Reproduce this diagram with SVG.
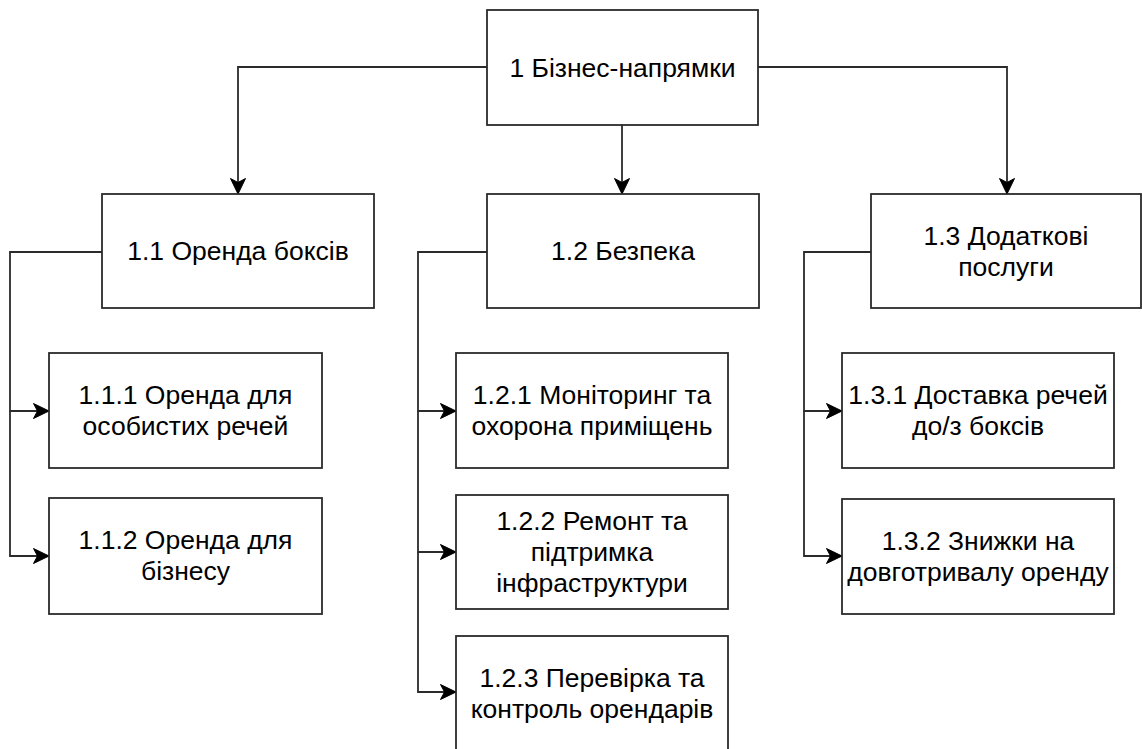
<svg xmlns="http://www.w3.org/2000/svg" width="1142" height="749" viewBox="0 0 1142 749">
  <style>
    .box { fill: #ffffff; stroke: #2b2b2b; stroke-width: 1.8; }
    .lbl { font-family: "Liberation Sans", Arial, sans-serif; font-size: 26.5px; fill: #000; text-anchor: middle; }
    .edge { fill: none; stroke: #2b2b2b; stroke-width: 1.8; marker-end: url(#arrow); }
  </style>
  <defs>
    <marker id="arrow" markerUnits="userSpaceOnUse" markerWidth="18" markerHeight="18" refX="16.5" refY="9" orient="auto">
      <path d="M1,1.5 L16.5,9 L1,16.5 L5,9 Z" fill="#000" stroke="#000" stroke-width="1"/>
    </marker>
  </defs>

  <!-- connectors -->
  <g id="connectors">
    <path class="edge" d="M487,67 H238 V194"/>
    <path class="edge" d="M622,125 V194"/>
    <path class="edge" d="M758,67 H1007 V194"/>

    <path class="edge" d="M102,252 H10 V411 H49"/>
    <path class="edge" d="M10,411 V556 H49"/>

    <path class="edge" d="M487,252 H418 V411 H456"/>
    <path class="edge" d="M418,411 V552 H456"/>
    <path class="edge" d="M418,552 V692 H456"/>

    <path class="edge" d="M871,252 H804 V411 H842"/>
    <path class="edge" d="M804,411 V556 H842"/>
  </g>

  <!-- root -->
  <g id="n1">
    <rect class="box" x="487" y="10" width="271" height="115"/>
    <text class="lbl" x="622.5" y="77">1 Бізнес-напрямки</text>
  </g>

  <!-- level 2 -->
  <g id="n1-1">
    <rect class="box" x="102" y="194" width="272" height="114"/>
    <text class="lbl" x="238" y="260">1.1 Оренда боксів</text>
  </g>
  <g id="n1-2">
    <rect class="box" x="487" y="194" width="272" height="114"/>
    <text class="lbl" x="623" y="260">1.2 Безпека</text>
  </g>
  <g id="n1-3">
    <rect class="box" x="871" y="194" width="270" height="114"/>
    <text class="lbl" x="1006" y="245">1.3 Додаткові</text>
    <text class="lbl" x="1006" y="276">послуги</text>
  </g>

  <!-- level 3: 1.1 -->
  <g id="n1-1-1">
    <rect class="box" x="49" y="353" width="273" height="115"/>
    <text class="lbl" x="185.5" y="404">1.1.1 Оренда для</text>
    <text class="lbl" x="185.5" y="435">особистих речей</text>
  </g>
  <g id="n1-1-2">
    <rect class="box" x="49" y="498" width="273" height="116"/>
    <text class="lbl" x="185.5" y="549">1.1.2 Оренда для</text>
    <text class="lbl" x="185.5" y="580">бізнесу</text>
  </g>

  <!-- level 3: 1.2 -->
  <g id="n1-2-1">
    <rect class="box" x="456" y="353" width="272" height="115"/>
    <text class="lbl" x="592" y="404">1.2.1 Моніторинг та</text>
    <text class="lbl" x="592" y="435">охорона приміщень</text>
  </g>
  <g id="n1-2-2">
    <rect class="box" x="456" y="495" width="272" height="114"/>
    <text class="lbl" x="592" y="530">1.2.2 Ремонт та</text>
    <text class="lbl" x="592" y="561">підтримка</text>
    <text class="lbl" x="592" y="592">інфраструктури</text>
  </g>
  <g id="n1-2-3">
    <rect class="box" x="456" y="636" width="272" height="115"/>
    <text class="lbl" x="592" y="687">1.2.3 Перевірка та</text>
    <text class="lbl" x="592" y="718">контроль орендарів</text>
  </g>

  <!-- level 3: 1.3 -->
  <g id="n1-3-1">
    <rect class="box" x="842" y="353" width="272" height="115"/>
    <text class="lbl" x="978" y="404">1.3.1 Доставка речей</text>
    <text class="lbl" x="978" y="435">до/з боксів</text>
  </g>
  <g id="n1-3-2">
    <rect class="box" x="842" y="499" width="272" height="115"/>
    <text class="lbl" x="978" y="550">1.3.2 Знижки на</text>
    <text class="lbl" x="978" y="581">довготривалу оренду</text>
  </g>
</svg>
